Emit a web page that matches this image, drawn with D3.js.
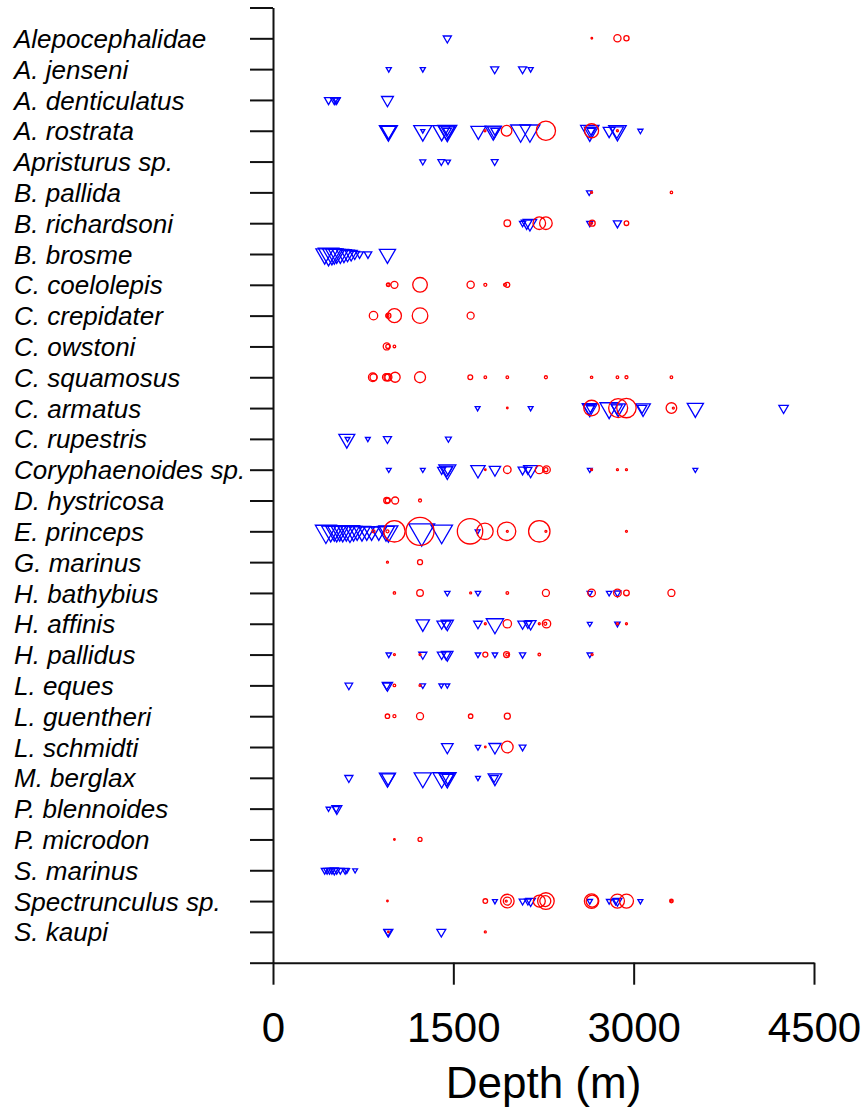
<!DOCTYPE html>
<html>
<head>
<meta charset="utf-8">
<script src="https://cdn.jsdelivr.net/npm/d3@7"></script>
<style>
  body { margin: 0; background: #fff; }
  svg { display: block; font-family: "Liberation Sans", Arial, sans-serif; }
</style>
</head>
<body>
<div class="result"></div>
<script>
// Species (top to bottom)
const species = [
  'Alepocephalidae', 'A. jenseni', 'A. denticulatus', 'A. rostrata', 'Apristurus sp.',
  'B. pallida', 'B. richardsoni', 'B. brosme', 'C. coelolepis', 'C. crepidater',
  'C. owstoni', 'C. squamosus', 'C. armatus', 'C. rupestris', 'Coryphaenoides sp.',
  'D. hystricosa', 'E. princeps', 'G. marinus', 'H. bathybius', 'H. affinis',
  'H. pallidus', 'L. eques', 'L. guentheri', 'L. schmidti', 'M. berglax',
  'P. blennoides', 'P. microdon', 'S. marinus', 'Spectrunculus sp.', 'S. kaupi'
];

const depthTicks = [0, 1500, 3000, 4500];

// Red circles: [depth (m), relative abundance] per species
const redCircles = [
  [[2652, 0.8], [2865, 3.6], [2940, 2.6]],
  [],
  [],
  [[1763, 1], [1943, 5.3], [2270, 9.6], [2650, 7], [2865, 1]],
  [],
  [[2650, 1], [3314, 1.2]],
  [[1949, 3.3], [2215, 6.3], [2270, 6.3], [2655, 3], [2650, 1], [2940, 2.3]],
  [],
  [[955, 1.5], [960, 1.8], [1010, 3.5], [1223, 7.3], [1644, 3.6], [1766, 1.5], [1930, 1.5], [1949, 2.5]],
  [[836, 4.2], [952, 1.5], [960, 2.5], [1010, 7], [1223, 7.8], [1644, 3.5]],
  [[946, 3.5], [955, 2], [1010, 1.3]],
  [[830, 4.3], [836, 3.5], [940, 3.5], [952, 3.5], [960, 3.5], [1016, 5], [1223, 5.5], [1641, 2.4],
   [1766, 1.3], [1949, 1.3], [2270, 1.5], [2650, 1.2], [2865, 1.3], [2940, 1.5], [3314, 1.3]],
  [[1949, 0.8], [2650, 7.8], [2871, 9.5], [2940, 9.7], [3314, 5.3], [3330, 1]],
  [],
  [[1766, 0.8], [1949, 3.8], [2215, 4], [2275, 3.8], [2270, 2], [2650, 1], [2865, 1], [2940, 1]],
  [[946, 3], [955, 2.5], [1016, 3.5], [1223, 1.5]],
  [[836, 1.5], [952, 1.5], [1010, 10.7], [1223, 14], [1639, 12.7], [1763, 8.2], [1943, 9.2],
   [1949, 1], [2215, 10.7], [2270, 1], [2940, 1]],
  [[952, 1], [1223, 2.5]],
  [[1010, 1.2], [1223, 3.3], [1644, 1], [1949, 1.3], [2270, 3.5], [2650, 3.8], [2865, 3.8], [2940, 2.8], [3314, 3.5]],
  [[1766, 1], [1949, 4.2], [2215, 1], [2275, 4.2], [2265, 1.5], [2865, 1], [2940, 1]],
  [[1010, 1], [1223, 1], [1766, 2.5], [1943, 3], [1949, 1.5], [2215, 1.3], [2655, 1]],
  [[1010, 1.3], [1223, 1]],
  [[952, 2.2], [1010, 1.5], [1223, 3.5], [1644, 2.2], [1949, 3]],
  [[1766, 0.8], [1949, 5.8]],
  [],
  [],
  [[1010, 0.8], [1223, 2]],
  [],
  [[952, 0.8], [1766, 2.3], [1949, 6.8], [1949, 4], [1940, 1], [2215, 6], [2270, 8.3], [2265, 5.5],
   [2650, 7.2], [2655, 6], [2865, 7], [2940, 7], [3314, 1.8], [3314, 1]],
  [[960, 0.8], [1766, 1]]
];

// Blue triangles: [depth (m), relative abundance] per species
const blueTriangles = [
  [[1450, 3]],
  [[963, 1.9], [1246, 1.9], [1844, 3], [2076, 3], [2143, 1.9]],
  [[462, 3], [510, 3], [525, 3], [531, 2.5], [952, 4.4]],
  [[960, 6.7], [958, 6], [962, 5.5], [1246, 6.7], [1246, 1.5], [1403, 6.5], [1450, 7], [1445, 6], [1455, 5],
   [1450, 3], [1708, 5.5], [1832, 6], [1840, 5], [1846, 3], [2060, 7.4], [2137, 7.4], [2635, 6.8],
   [2640, 4.5], [2645, 3], [2796, 4.4], [2865, 6.5], [2860, 5], [3056, 1.9]],
  [[1246, 2.2], [1400, 2.5], [1456, 1.8], [1844, 2.5]],
  [[2630, 2]],
  [[2076, 2.3], [2110, 4], [2137, 5], [2635, 2.3], [2865, 3]],
  [[430, 6.5], [462, 7.6], [490, 7], [510, 6.5], [530, 6], [560, 6], [590, 5.5], [620, 5], [650, 4.5],
   [680, 3.5], [720, 2.8], [790, 2.8], [952, 6]],
  [],
  [],
  [],
  [],
  [[1702, 1.8], [2143, 1.8], [2635, 5.6], [2630, 4.5], [2640, 3], [2796, 6.8], [2871, 5.5], [2860, 4],
   [3078, 5.4], [3070, 3.5], [3513, 6], [4247, 3.5]],
  [[614, 5.9], [620, 1.8], [789, 1.8], [952, 3], [1459, 2.2]],
  [[963, 1.8], [1246, 1.8], [1403, 3], [1450, 6.3], [1445, 4.5], [1455, 3.5], [1705, 5.3], [1846, 4.2],
   [2076, 3.3], [2143, 5.2], [2120, 3], [2635, 1.8], [3513, 1.8]],
  [],
  [[440, 7.8], [480, 6.8], [510, 6.3], [530, 6.8], [555, 6.3], [580, 6.8], [610, 6.3], [640, 7.2], [670, 6.3],
   [700, 5.8], [740, 6.3], [780, 5.8], [820, 5.8], [880, 5.8], [940, 6.3], [960, 7], [1237, 9.6], [1403, 8],
   [1702, 1.8]],
  [],
  [[1450, 2], [1705, 2], [2635, 2], [2796, 2], [2865, 2.5]],
  [[1246, 4.9], [1403, 3.5], [1450, 4.5], [1440, 3.5], [1705, 3.2], [1846, 6.4], [2076, 3.5], [2143, 4],
   [2120, 3], [2635, 1.8], [2865, 2]],
  [[963, 2], [1246, 3], [1403, 3.2], [1450, 4.2], [1440, 3.5], [1705, 2], [1846, 2], [2076, 2.3], [2635, 2]],
  [[631, 2.8], [952, 3.8], [945, 3], [1246, 2], [1400, 1.8], [1450, 1.8]],
  [],
  [[1450, 4.3], [1705, 2], [1846, 4.5], [2076, 2.5]],
  [[631, 3], [952, 6], [958, 5], [1246, 6.4], [1403, 6.5], [1450, 6.5], [1445, 5.5], [1455, 4.5],
   [1705, 1.8], [1846, 5], [1840, 3]],
  [[462, 1.8], [531, 3.7], [525, 2.5]],
  [],
  [[430, 2.5], [450, 2.5], [470, 2.5], [490, 2.5], [510, 3], [530, 2.5], [560, 2.5], [600, 2.5], [614, 2], [683, 1.8]],
  [[1846, 1.8], [2076, 2.5], [2143, 3.5], [2120, 2.5], [2635, 2], [2796, 2], [2865, 3.3], [2850, 2.5], [3056, 1.8]],
  [[960, 3.3], [955, 3], [1400, 3.3]]
];

// Width and height
const w = 867;
const h = 1115;

// Scales
const xScale = d3.scaleLinear().domain([0, 4500]).range([273, 814]);
const yScale = d3.scaleLinear().domain([0, species.length + 1]).range([7.5, 962.7]);
const rScale = d3.scaleLinear().domain([0, 10]).range([0, 10]);

// Create SVG element
const svg = d3.select('.result')
  .append('svg')
  .attr('width', w)
  .attr('height', h);

// Flatten the per-species lists
const tris = [];
blueTriangles.forEach(function (list, i) {
  list.forEach(function (d) { tris.push({ row: i + 1, depth: d[0], n: d[1] }); });
});
const circs = [];
redCircles.forEach(function (list, i) {
  list.forEach(function (d) { circs.push({ row: i + 1, depth: d[0], n: d[1] }); });
});

// Downward triangles (same proportions as R's pch 6)
svg.append('g')
  .selectAll('path')
  .data(tris)
  .enter()
  .append('path')
  .attr('d', function (d) {
    const cx = xScale(d.depth);
    const cy = yScale(d.row);
    const hw = 1.35 * rScale(d.n);
    return 'M' + (cx - hw) + ',' + (cy - 0.577 * hw) +
      'L' + (cx + hw) + ',' + (cy - 0.577 * hw) +
      'L' + cx + ',' + (cy + 1.155 * hw) + 'Z';
  })
  .attr('fill', 'none')
  .attr('stroke', '#0000ff')
  .attr('stroke-width', 1.3);

// Circles
svg.append('g')
  .selectAll('circle')
  .data(circs)
  .enter()
  .append('circle')
  .attr('cx', function (d) { return xScale(d.depth); })
  .attr('cy', function (d) { return yScale(d.row); })
  .attr('r', function (d) { return rScale(d.n); })
  .attr('fill', 'none')
  .attr('stroke', '#ff0000')
  .attr('stroke-width', 1.3);

// Y axis
const yAxis = d3.axisLeft(yScale)
  .tickValues(d3.range(0, species.length + 2))
  .tickSize(23)
  .tickSizeOuter(0)
  .tickFormat(function (d) { return species[d - 1] || ''; });

const gy = svg.append('g')
  .attr('class', 'y axis')
  .attr('transform', 'translate(' + xScale(0) + ',0)')
  .call(yAxis);

gy.selectAll('text')
  .attr('x', 14 - xScale(0))
  .attr('dy', '0.35em')
  .attr('text-anchor', 'start')
  .attr('font-size', 26)
  .attr('font-style', 'italic')
  .attr('fill', '#000');

// X axis
const xAxis = d3.axisBottom(xScale)
  .tickValues(depthTicks)
  .tickSize(22)
  .tickSizeOuter(0)
  .tickFormat(d3.format('d'));

const gx = svg.append('g')
  .attr('class', 'x axis')
  .attr('transform', 'translate(0,' + yScale(species.length + 1) + ')')
  .call(xAxis);

gx.selectAll('text')
  .attr('y', 79)
  .attr('dy', 0)
  .attr('font-size', 42)
  .attr('fill', '#000');

svg.selectAll('.axis path, .axis line')
  .attr('stroke', '#111')
  .attr('stroke-width', 2);

// Axis title
svg.append('text')
  .attr('x', (xScale(0) + xScale(4500)) / 2)
  .attr('y', 1098)
  .attr('text-anchor', 'middle')
  .attr('font-size', 44)
  .attr('fill', '#000')
  .text('Depth (m)');
</script>
</body>
</html>
